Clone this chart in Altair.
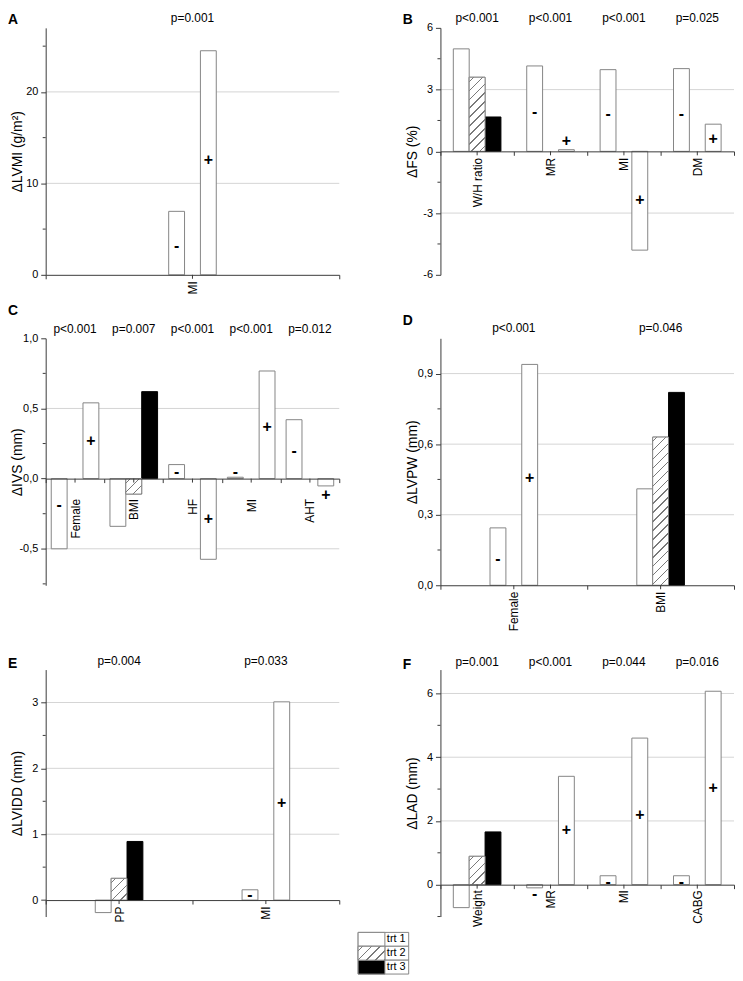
import altair as alt
import pandas as pd

FONT = "Liberation Sans"
W, H = 296, 249          # plot area of every panel
EXTRA = 21               # extra room above the bottom row
SUB = 16                 # width of one bar slot in px
AXIS = "#3a3a3a"
BAR_STROKE = "#858585"
GRID = "#d4d4d4"
HATCH = "#7a7a7a"

GROUPS = ["trt 1", "trt 2", "trt 3", "-", "+"]
FILLS = ["white", "white", "black", "white", "white"]
STROKES = [BAR_STROKE, BAR_STROKE, "black", BAR_STROKE, BAR_STROKE]
SLOT = {"trt 1": 1, "-": 1, "trt 2": 2, "trt 3": 3, "+": 3}

# ---------------- Panel A : dLVMI ----------------
A_cat = ["MI"]
A_p = ["p=0.001"]
A_bar_cat = ["MI", "MI"]
A_bar_grp = ["-", "+"]
A_bar_val = [6.94, 24.5]
A_sign_cat = ["MI", "MI"]
A_sign_grp = ["-", "+"]
A_sign_y = [3.1, 12.6]

# ---------------- Panel B : dFS ----------------
B_cat = ["W/H ratio", "MR", "MI", "DM"]
B_p = ["p<0.001", "p<0.001", "p<0.001", "p=0.025"]
B_bar_cat = ["W/H ratio", "W/H ratio", "W/H ratio", "MR", "MR", "MI", "MI", "DM", "DM"]
B_bar_grp = ["trt 1", "trt 2", "trt 3", "-", "+", "-", "+", "-", "+"]
B_bar_val = [4.98, 3.6, 1.67, 4.15, 0.08, 3.97, -4.8, 4.02, 1.32]
B_sign_cat = ["MR", "MR", "MI", "MI", "DM", "DM"]
B_sign_grp = ["-", "+", "-", "+", "-", "+"]
B_sign_y = [1.93, 0.51, 1.8, -2.37, 1.8, 0.6]

# ---------------- Panel C : dIVS ----------------
C_cat = ["Female", "BMI", "HF", "MI", "AHT"]
C_p = ["p<0.001", "p=0.007", "p<0.001", "p<0.001", "p=0.012"]
C_bar_cat = ["Female", "Female", "BMI", "BMI", "BMI", "HF", "HF", "MI", "MI", "AHT", "AHT"]
C_bar_grp = ["-", "+", "trt 1", "trt 2", "trt 3", "-", "+", "-", "+", "-", "+"]
C_bar_val = [-0.5, 0.54, -0.34, -0.11, 0.62, 0.1, -0.575, 0.01, 0.767, 0.42, -0.052]
C_sign_cat = ["Female", "Female", "HF", "HF", "MI", "MI", "AHT", "AHT"]
C_sign_grp = ["-", "+", "-", "+", "-", "+", "-", "+"]
C_sign_y = [-0.19, 0.27, 0.045, -0.29, 0.05, 0.365, 0.195, -0.12]

# ---------------- Panel D : dLVPW ----------------
D_cat = ["Female", "BMI"]
D_p = ["p<0.001", "p=0.046"]
D_bar_cat = ["Female", "Female", "BMI", "BMI", "BMI"]
D_bar_grp = ["-", "+", "trt 1", "trt 2", "trt 3"]
D_bar_val = [0.244, 0.939, 0.41, 0.63, 0.82]
D_sign_cat = ["Female", "Female"]
D_sign_grp = ["-", "+"]
D_sign_y = [0.112, 0.455]

# ---------------- Panel E : dLVIDD ----------------
E_cat = ["PP", "MI"]
E_p = ["p=0.004", "p=0.033"]
E_bar_cat = ["PP", "PP", "PP", "MI", "MI"]
E_bar_grp = ["trt 1", "trt 2", "trt 3", "-", "+"]
E_bar_val = [-0.19, 0.33, 0.89, 0.156, 3.01]
E_sign_cat = ["MI", "MI"]
E_sign_grp = ["-", "+"]
E_sign_y = [0.07, 1.48]

# ---------------- Panel F : dLAD ----------------
F_cat = ["Weight", "MR", "MI", "CABG"]
F_p = ["p=0.001", "p<0.001", "p=0.044", "p=0.016"]
F_bar_cat = ["Weight", "Weight", "Weight", "MR", "MR", "MI", "MI", "CABG", "CABG"]
F_bar_grp = ["trt 1", "trt 2", "trt 3", "-", "+", "-", "+", "-", "+"]
F_bar_val = [-0.72, 0.89, 1.655, -0.1, 3.4, 0.28, 4.6, 0.28, 6.07]
F_sign_cat = ["MR", "MR", "MI", "MI", "CABG", "CABG"]
F_sign_grp = ["-", "+", "-", "+", "-", "+"]
F_sign_y = [-0.3, 1.7, 0.07, 2.2, 0.07, 3.04]

LEGEND = ["trt 1", "trt 2", "trt 3"]


def hatch(w, h, period=9.0, lw=1.5):
    """Diagonal '/' hatch as a hard-stop linear gradient for a w x h px rect."""
    tot = w + h
    k = tot / (w * w + h * h)
    stops = [{"offset": 0, "color": "white"}]
    i = 0
    while True:
        c = i * period + period / 2
        a, b = (c - lw / 2) / tot, (c + lw / 2) / tot
        if a >= 1:
            break
        a, b = max(a, 0), min(b, 1)
        stops += [{"offset": a, "color": "white"}, {"offset": a, "color": HATCH},
                  {"offset": b, "color": HATCH}, {"offset": b, "color": "white"}]
        i += 1
    stops.append({"offset": 1, "color": "white"})
    return {"gradient": "linear", "x1": 0, "y1": 0, "x2": k * w, "y2": k * h, "stops": stops}


def panel(letter, cats, pvals, bcat, bgrp, bval, scat, sgrp, sy, dom, major, minor,
          grid, title, comma, bottom_row, letter_dy, p_dy, lab_pad):
    top = EXTRA if bottom_row else 0
    hgt = H + top
    ymin, ymax = dom
    y0 = top + H * ymax / (ymax - ymin)
    off = -(hgt - y0)
    bw = W / len(cats)

    bars = pd.DataFrame({"cat": bcat, "grp": bgrp, "val": bval})
    bars["slot"] = bars["grp"].map(SLOT)
    signs = pd.DataFrame({"cat": scat, "grp": sgrp, "sy": sy})
    signs["slot"] = signs["grp"].map(SLOT)
    ptxt = pd.DataFrame({"cat": cats, "p": pvals})

    if comma:
        lab = "(datum.value < 0 ? '-' : '') + replace(format(abs(datum.value), '.1f'), '.', ',')"
    else:
        lab = "(datum.value < 0 ? '-' : '') + format(abs(datum.value), 'd')"

    xaxis = alt.Axis(title=None, labelAngle=-90, labelFontSize=12, labelPadding=lab_pad,
                     tickBand="extent", tickSize=4, offset=off, domainColor=AXIS,
                     tickColor=AXIS, labelColor="black", grid=False, zindex=1)
    X = alt.X("cat:N", scale=alt.Scale(domain=cats, paddingInner=0, paddingOuter=0), axis=xaxis)
    XO = alt.XOffset("slot:O", scale=alt.Scale(domain=[1, 2, 3], paddingInner=0, paddingOuter=0,
                                               range=[bw / 2 - 1.5 * SUB, bw / 2 + 1.5 * SUB]))
    yscale = alt.Scale(domain=list(dom), range=[hgt, top], nice=False, zero=False)
    yaxis = alt.Axis(title=title, values=major, labelExpr=lab, grid=False, tickSize=5,
                     labelPadding=3, labelFontSize=11, labelColor="black", domainColor=AXIS,
                     tickColor=AXIS, titleX=-28, titleY=top + H / 2, titleAngle=-90,
                     titleBaseline="middle", titleAlign="center", titleFontSize=14,
                     titleFontWeight="normal", titleColor="black", zindex=1)

    def Y(f):
        return alt.Y(f, scale=yscale, axis=yaxis)

    fill = alt.Fill("grp:N", scale=alt.Scale(domain=GROUPS, range=FILLS), legend=None)
    stroke = alt.Stroke("grp:N", scale=alt.Scale(domain=GROUPS, range=STROKES), legend=None)

    layers = [
        alt.Chart(pd.DataFrame({"g": grid})).mark_rule(color=GRID, strokeWidth=1).encode(
            y=Y("g:Q"), x=alt.value(0), x2=alt.value("width")),
        alt.Chart(bars).mark_bar(strokeWidth=1).encode(
            x=X, xOffset=XO, y=Y("val:Q"), fill=fill, stroke=stroke),
    ]
    hb = bars[bars["grp"] == "trt 2"]
    if len(hb):
        hpx = abs(float(hb["val"].iloc[0])) * H / (ymax - ymin)
        layers.append(alt.Chart(hb).mark_bar(fill=hatch(SUB, hpx), stroke=BAR_STROKE,
                                             strokeWidth=1).encode(x=X, xOffset=XO, y=Y("val:Q")))
    layers += [
        alt.Chart(signs).mark_text(fontSize=16, fontWeight="bold", baseline="middle",
                                   align="center").encode(
            x=X, xOffset=XO, y=Y("sy:Q"), text="grp:N"),
        alt.Chart(ptxt).mark_text(fontSize=12, baseline="top").encode(
            x=X, y=alt.value(top + p_dy), text="p:N"),
        alt.Chart(pd.DataFrame({"t": [letter]})).mark_text(
            fontSize=14, fontWeight="bold", align="left", baseline="top").encode(
            x=alt.value(-38), y=alt.value(top + letter_dy), text="t:N"),
        alt.Chart(pd.DataFrame({"cat": cats})).mark_rule(color=AXIS, y2Offset=4).encode(
            x=X, y=alt.datum(0), y2=alt.datum(0)),
        alt.Chart(pd.DataFrame({"m": minor})).mark_rule(color=AXIS).encode(
            y=Y("m:Q"), x=alt.value(-3), x2=alt.value(0)),
    ]
    return alt.layer(*layers).properties(width=W, height=hgt)


pA = panel("A", A_cat, A_p, A_bar_cat, A_bar_grp, A_bar_val, A_sign_cat, A_sign_grp, A_sign_y,
           (0, 27), [0, 10, 20], [5, 15, 25], [10, 20], "\u0394LVMI (g/m\u00b2)", False, False,
           -15, -14.5, 2)
pB = panel("B", B_cat, B_p, B_bar_cat, B_bar_grp, B_bar_val, B_sign_cat, B_sign_grp, B_sign_y,
           (-6, 6), [-6, -3, 0, 3, 6], [-4.5, -1.5, 1.5, 4.5], [-3, 3], "\u0394FS (%)", False, False,
           -15, -14.5, 2)
pC = panel("C", C_cat, C_p, C_bar_cat, C_bar_grp, C_bar_val, C_sign_cat, C_sign_grp, C_sign_y,
           (-0.76, 1.0), [-0.5, 0, 0.5, 1.0], [-0.75, -0.25, 0.25, 0.75], [-0.5, 0.5],
           "\u0394IVS (mm)", True, False, -34, -14.5, 16)
pD = panel("D", D_cat, D_p, D_bar_cat, D_bar_grp, D_bar_val, D_sign_cat, D_sign_grp, D_sign_y,
           (0, 1.05), [0, 0.3, 0.6, 0.9], [0.15, 0.45, 0.75], [0.3, 0.6, 0.9],
           "\u0394LVPW (mm)", True, False, -24, -15, 2)
pE = panel("E", E_cat, E_p, E_bar_cat, E_bar_grp, E_bar_val, E_sign_cat, E_sign_grp, E_sign_y,
           (-0.25, 3.5), [0, 1, 2, 3], [0.5, 1.5, 2.5], [1, 2, 3],
           "\u0394LVIDD (mm)", False, True, -13, -13.5, 2)
pF = panel("F", F_cat, F_p, F_bar_cat, F_bar_grp, F_bar_val, F_sign_cat, F_sign_grp, F_sign_y,
           (-1, 6.75), [0, 2, 4, 6], [-1, 1, 3, 5], [2, 4, 6],
           "\u0394LAD (mm)", False, True, -12, -12.5, 1)

# ---------------- legend ----------------
ldf = pd.DataFrame({"trt": LEGEND})
LY = alt.Y("trt:N", scale=alt.Scale(domain=LEGEND, range=[-48, -6], paddingInner=0, paddingOuter=0),
           axis=None)
leg = alt.layer(
    alt.Chart(ldf).mark_rect(fill="white", stroke=BAR_STROKE, strokeWidth=1).encode(
        y=LY, x=alt.value(315), x2=alt.value(366)),
    alt.Chart(ldf).mark_rect(stroke=BAR_STROKE, strokeWidth=1).encode(
        y=LY, x=alt.value(315), x2=alt.value(342),
        fill=alt.Fill("trt:N", scale=alt.Scale(domain=GROUPS, range=FILLS), legend=None)),
    alt.Chart(ldf[ldf["trt"] == "trt 2"]).mark_rect(fill=hatch(27, 14, period=9.0),
                                                    stroke=BAR_STROKE, strokeWidth=1).encode(
        y=LY, x=alt.value(315), x2=alt.value(342)),
    alt.Chart(ldf).mark_text(align="left", baseline="middle", fontSize=11).encode(
        y=LY, x=alt.value(344), text="trt:N"),
).properties(width=W, height=1)

chart = alt.concat(pA, pB, pC, pD, pE, pF, leg, columns=2,
                   spacing={"row": 64, "column": 102}, bounds="flush").resolve_scale(
    x="independent", y="independent", xOffset="independent"
).properties(padding=0).configure(font=FONT).configure_view(stroke=None)

chart.save("out.html", embed_options={"renderer": "svg", "actions": False})
